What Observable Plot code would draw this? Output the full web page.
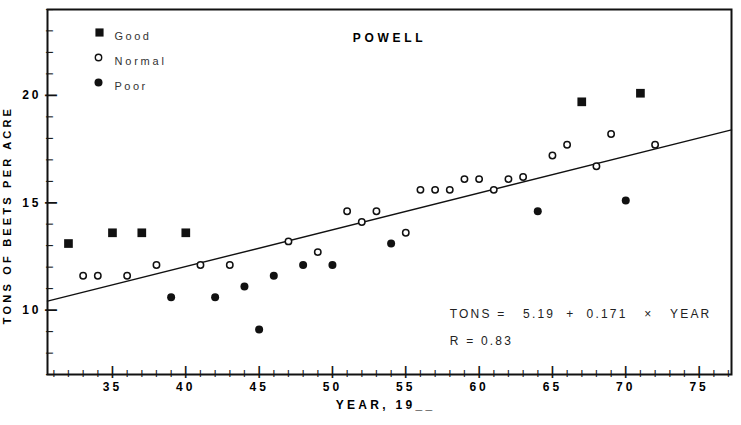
<!DOCTYPE html>
<html>
<head>
<meta charset="utf-8">
<script src="https://cdn.jsdelivr.net/npm/d3@7"></script>
<script src="https://cdn.jsdelivr.net/npm/@observablehq/plot@0.6"></script>
<style>
  body { margin: 0; background: #fff; }
  #chart svg { display: block; }
  g[aria-label="x-axis tick label"] text,
  g[aria-label="y-axis tick label"] text { letter-spacing: 3px; }
</style>
</head>
<body>
<div id="chart"></div>
<script>
// Sugar beet yields at Powell, by year and season rating
const goodYears = [32, 35, 37, 40, 67, 71];
const goodTons = [13.1, 13.6, 13.6, 13.6, 19.7, 20.1];

const normalYears = [33, 34, 36, 38, 41, 43, 47, 49, 51, 52, 53, 55, 56, 57, 58, 59, 60, 61, 62, 63, 65, 66, 68, 69, 72];
const normalTons = [11.6, 11.6, 11.6, 12.1, 12.1, 12.1, 13.2, 12.7, 14.6, 14.1, 14.6, 13.6, 15.6, 15.6, 15.6, 16.1, 16.1, 15.6, 16.1, 16.2, 17.2, 17.7, 16.7, 18.2, 17.7];

const poorYears = [39, 42, 44, 45, 46, 48, 50, 54, 64, 70];
const poorTons = [10.6, 10.6, 11.1, 9.1, 11.6, 12.1, 12.1, 13.1, 14.6, 15.1];

const xTickLabels = [35, 40, 45, 50, 55, 60, 65, 70, 75];
const yTickLabels = [10, 15, 20];
const legendLabels = ["Good", "Normal", "Poor"];

// Linear fit reported on the chart
const fitIntercept = 5.19;
const fitSlope = 0.171;
const fitR = 0.83;

const xDomain = [30.57, 77.21];
const yDomain = [7, 24];

const toRows = (xs, ys) => xs.map((x, i) => ({year: x, tons: ys[i]}));
const good = toRows(goodYears, goodTons);
const normal = toRows(normalYears, normalTons);
const poor = toRows(poorYears, poorTons);
const fitLine = xDomain.map(x => ({year: x, tons: fitIntercept + fitSlope * x}));

// minor ticks every year / every ton, skipping the labelled ones
const minorYears = d3.range(31, 78).filter(v => !xTickLabels.includes(v));
const minorTons = d3.range(7, 25).filter(v => !yTickLabels.includes(v));

// inked tick strokes, drawn as a bar glyph standing on the edge
const barTick = (size) => ({text: () => "|", fontSize: size, fontWeight: "bold", fill: "#111", lineAnchor: "bottom", fontFamily: "'Liberation Sans', sans-serif"});

const font = "'Liberation Sans', Arial, sans-serif";
const sp = (n) => "\u00a0".repeat(n);
const fitText = `TONS =${sp(3)}${fitIntercept}${sp(2)}+${sp(2)}${fitSlope}${sp(3)}\u00d7${sp(3)}YEAR`;
const rText = `R = ${fitR}`;

const legendRow = (i) => ({frameAnchor: "top-left", dy: 23 + 25 * i});

const chart = Plot.plot({
  width: 741,
  height: 425,
  marginLeft: 47,
  marginRight: 10,
  marginTop: 9,
  marginBottom: 51,
  style: {fontFamily: font, background: "#fff", color: "#111"},
  x: {domain: xDomain, label: null},
  y: {domain: yDomain, label: null},
  marks: [
    Plot.frame({stroke: "#111", strokeWidth: 2}),
    // inward ticks along the bottom and left edges
    Plot.text(minorYears, {x: d => d, frameAnchor: "bottom", textAnchor: "middle", ...barTick(8)}),
    Plot.text(xTickLabels, {x: d => d, frameAnchor: "bottom", textAnchor: "middle", ...barTick(12)}),
    Plot.text(minorTons, {y: d => d, frameAnchor: "left", textAnchor: "middle", rotate: 90, ...barTick(8)}),
    Plot.text(yTickLabels, {y: d => d, frameAnchor: "left", textAnchor: "middle", rotate: 90, ...barTick(13)}),
    Plot.axisX(xTickLabels, {tickSize: 0, tickPadding: 8, fontSize: 12, fontWeight: "bold", fill: "#000"}),
    Plot.axisY(yTickLabels, {tickSize: 0, tickPadding: 6, fontSize: 12, fontWeight: "bold", fill: "#000"}),
    // fitted line
    Plot.line(fitLine, {x: "year", y: "tons", stroke: "#111", strokeWidth: 1.4}),
    // yield points by season rating
    Plot.dot(normal, {x: "year", y: "tons", r: 3.2, fill: "#fff", stroke: "#111", strokeWidth: 1.5}),
    Plot.dot(poor, {x: "year", y: "tons", r: 4, fill: "#111", stroke: "none"}),
    Plot.dot(good, {x: "year", y: "tons", symbol: "square", r: 4.9, fill: "#111", stroke: "none"}),
    // legend
    Plot.dot([legendLabels[0]], {...legendRow(0), dx: 52, symbol: "square", r: 4.6, fill: "#111", stroke: "none"}),
    Plot.dot([legendLabels[1]], {...legendRow(1), dx: 51, r: 3.2, fill: "none", stroke: "#111", strokeWidth: 1.4}),
    Plot.dot([legendLabels[2]], {...legendRow(2), dx: 51, r: 4, fill: "#111", stroke: "none"}),
    ...legendLabels.map((label, i) => Plot.text([label], {
      ...legendRow(i), dx: 67, textAnchor: "start", fontSize: 11, fill: "#333"
    })),
    // titles
    Plot.text(["POWELL"], {frameAnchor: "top", dy: 24, fontSize: 12, fontWeight: "900", fill: "#000"}),
    Plot.text(["YEAR, 19__"], {frameAnchor: "bottom", dy: 34, dx: -4, fontSize: 12, fontWeight: "900", fill: "#000"}),
    Plot.text(["TONS OF BEETS PER ACRE"], {frameAnchor: "left", textAnchor: "middle", rotate: -90, dx: -40, dy: 23, fontSize: 11, fontWeight: "900", fill: "#000"}),
    Plot.text([fitText], {x: 58, y: 9.83, textAnchor: "start", fontSize: 12, fill: "#222"}),
    Plot.text([rText], {x: 58, y: 8.57, textAnchor: "start", fontSize: 12, fill: "#222"})
  ]
});

// wide, typewriter-like letter spacing for the lettering
const spacing = new Map([
  ["POWELL", 3.7], ["YEAR, 19__", 3.3], ["TONS OF BEETS PER ACRE", 3.2],
  ["Good", 2.5], ["Normal", 2.8], ["Poor", 2.5], [fitText, 2.2], [rText, 2.2]
]);
d3.select(chart).selectAll("text").each(function() {
  const s = spacing.get(this.textContent);
  if (s != null) this.setAttribute("letter-spacing", s);
});

document.getElementById("chart").appendChild(chart);
</script>
</body>
</html>
